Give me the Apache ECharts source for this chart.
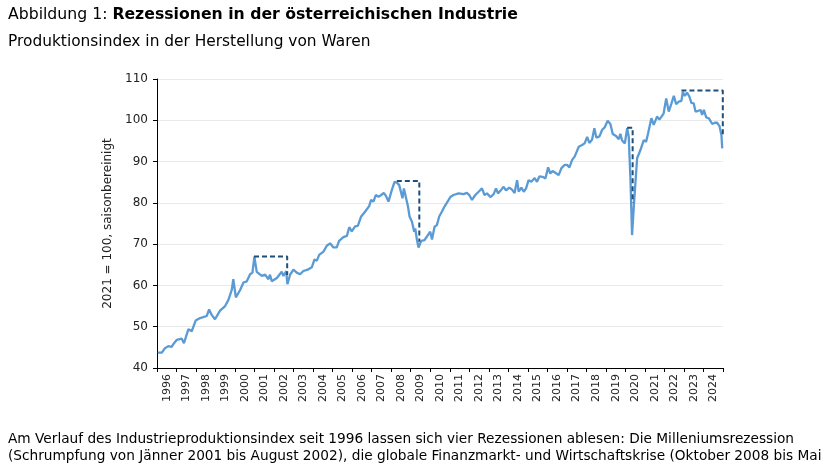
<!DOCTYPE html>
<html>
<head>
<meta charset="utf-8">
<script src="https://cdn.jsdelivr.net/npm/echarts@6/dist/echarts.min.js"></script>
<style>
html,body{margin:0;padding:0;background:#fff;}
#chart{width:829px;height:466px;}
</style>
</head>
<body>
<div id="chart"></div>
<script>
// Decimal-year positions of read points and index values (2021 = 100)
var dates = [
1996.04,1996.24,1996.41,1996.58,1996.75,1996.84,1997.01,1997.27,1997.38,1997.61,1997.78,1997.98,
1998.21,1998.55,1998.67,1998.81,1998.97,1999.23,1999.49,1999.66,1999.83,1999.91,2000.04,2000.26,
2000.43,2000.60,2000.77,2000.89,2000.99,2001.11,2001.37,2001.54,2001.71,2001.79,2001.88,2002.14,
2002.39,2002.48,2002.62,2002.68,2002.82,2002.99,2003.16,2003.33,2003.50,2003.76,2003.93,2004.07,
2004.19,2004.31,2004.53,2004.70,2004.87,2005.04,2005.21,2005.33,2005.55,2005.73,2005.85,2005.98,
2006.15,2006.29,2006.46,2006.67,2006.87,2006.97,2007.09,2007.21,2007.35,2007.49,2007.62,2007.73,
2007.86,2008.03,2008.17,2008.29,2008.41,2008.51,2008.58,2008.65,2008.75,2008.86,2008.94,2009.06,
2009.18,2009.23,2009.32,2009.40,2009.54,2009.71,2009.88,2010.00,2010.09,2010.22,2010.34,2010.46,
2010.60,2010.73,2011.03,2011.19,2011.45,2011.71,2011.88,2012.00,2012.14,2012.31,2012.48,2012.65,
2012.78,2012.91,2013.08,2013.25,2013.37,2013.47,2013.64,2013.76,2013.88,2014.05,2014.19,2014.32,
2014.45,2014.53,2014.67,2014.79,2014.91,2015.04,2015.18,2015.35,2015.47,2015.59,2015.76,2015.90,
2016.04,2016.15,2016.27,2016.41,2016.58,2016.72,2016.89,2017.01,2017.13,2017.27,2017.40,2017.61,
2017.78,2017.91,2018.04,2018.15,2018.29,2018.41,2018.51,2018.67,2018.81,2018.94,2019.09,2019.23,
2019.35,2019.52,2019.66,2019.74,2019.83,2019.97,2020.09,2020.17,2020.26,2020.34,2020.43,2020.60,
2020.77,2020.94,2021.06,2021.16,2021.33,2021.45,2021.62,2021.74,2021.85,2021.96,2022.09,2022.22,
2022.36,2022.48,2022.60,2022.73,2022.87,2022.94,2023.04,2023.16,2023.28,2023.38,2023.50,2023.59,
2023.73,2023.85,2023.93,2024.02,2024.14,2024.27,2024.36,2024.45,2024.58,2024.70,2024.82,2024.92,
2024.96
];
var values = [
43.7,43.7,44.8,45.3,45.1,45.8,46.8,47.1,46.0,49.4,48.9,51.5,
52.1,52.6,54.2,52.8,51.8,53.9,55.0,56.5,58.9,61.5,57.1,58.9,
60.7,61.0,62.7,63.1,67.0,63.3,62.3,62.6,61.5,62.6,61.0,61.8,
63.3,62.3,63.5,60.3,62.6,63.8,63.1,62.7,63.5,63.9,64.4,66.3,
66.0,67.4,68.2,69.6,70.2,69.2,69.2,70.8,71.7,72.0,74.1,73.1,
74.3,74.4,76.7,77.9,79.2,80.7,80.3,81.9,81.5,81.9,82.4,81.7,
80.3,83.1,85.1,84.9,84.3,83.9,81.1,83.5,83.3,79.1,76.7,75.5,
73.0,73.8,71.0,69.2,70.8,71.0,72.2,73.0,71.1,74.2,74.6,76.7,
77.9,79.1,81.4,81.9,82.3,82.1,82.4,81.9,80.7,81.9,82.7,83.5,
81.9,82.3,81.4,82.1,83.5,82.3,83.2,83.9,83.0,83.7,83.2,82.4,
85.5,82.7,83.7,82.7,83.5,85.5,85.1,86.0,85.1,86.4,86.3,85.9,
88.6,87.1,87.7,87.3,86.7,88.4,89.2,89.2,88.6,90.4,91.2,93.6,
94.0,94.4,96.0,94.5,95.3,98.1,95.8,96.1,97.7,98.3,99.9,99.1,
96.7,96.2,95.4,96.7,95.1,94.4,98.1,96.0,85.5,72.2,79.1,90.8,
92.8,95.2,94.8,96.8,100.5,98.9,100.9,100.2,100.9,101.7,105.3,102.1,
104.1,105.9,103.9,104.5,104.7,106.9,105.9,106.7,105.7,104.2,104.1,102.1,
102.3,102.5,101.3,102.5,100.7,100.5,100.9,99.1,99.4,99.4,98.6,96.4,
93.2
];
// Year tick labels
var years = [];
for (var y = 1996; y <= 2024; y++) years.push(String(y));
// Recession markers: peak start, end, peak level, level at end
var recStart  = [2000.97, 2008.29, 2020.09, 2022.87];
var recEnd    = [2002.67, 2009.44, 2020.37, 2024.99];
var recTop    = [67.0, 85.3, 98.2, 107.2];
var recBottom = [62.5, 70.6, 80.0, 96.0];

var series = [{
  type: 'line',
  data: dates.map(function (d, i) { return [d, values[i]]; }),
  showSymbol: false,
  lineStyle: { color: '#5B9BD5', width: 2.3 },
  itemStyle: { color: '#5B9BD5' },
  z: 2
}];
for (var r = 0; r < recStart.length; r++) {
  series.push({
    type: 'line',
    data: [[recStart[r], recTop[r]], [recEnd[r], recTop[r]], [recEnd[r], recBottom[r]]],
    showSymbol: false,
    lineStyle: { color: '#1F4E79', width: 2, type: [5, 3] },
    z: 3
  });
}

var chart = echarts.init(document.getElementById('chart'), null, { renderer: 'canvas' });
var FONT = '"DejaVu Sans", sans-serif';
chart.setOption({
  animation: false,
  backgroundColor: '#fff',
  textStyle: { fontFamily: FONT },
  title: [{
    left: 3, top: 2,
    text: '{a|Abbildung 1: }{b|Rezessionen in der österreichischen Industrie}',
    textStyle: {
      rich: {
        a: { fontSize: 15.7, fontWeight: 'normal', color: '#000', fontFamily: FONT },
        b: { fontSize: 15.7, fontWeight: 'bold', color: '#000', fontFamily: FONT }
      }
    }
  }, {
    left: 3, top: 29,
    text: 'Produktionsindex in der Herstellung von Waren',
    textStyle: { fontSize: 15.4, fontWeight: 'normal', color: '#000', fontFamily: FONT }
  }, {
    left: 3, top: 426,
    text: 'Am Verlauf des Industrieproduktionsindex seit 1996 lassen sich vier Rezessionen ablesen: Die Milleniumsrezession\n(Schrumpfung von Jänner 2001 bis August 2002), die globale Finanzmarkt- und Wirtschaftskrise (Oktober 2008 bis Mai',
    textStyle: { fontSize: 13.7, lineHeight: 17, fontWeight: 'normal', color: '#000', fontFamily: FONT }
  }],
  grid: { left: 157, right: 106, top: 79, bottom: 98, containLabel: false },
  xAxis: [{
    type: 'value', min: 1996, max: 2025, interval: 1,
    axisLine: { show: true, lineStyle: { color: '#000', width: 1 } },
    axisTick: { show: true, length: 4, lineStyle: { color: '#000' } },
    axisLabel: { show: false },
    splitLine: { show: false }
  }, {
    type: 'category', data: years, boundaryGap: true, position: 'bottom',
    axisLine: { show: false }, axisTick: { show: false },
    axisLabel: { rotate: 90, fontSize: 11, color: '#222', margin: 6, interval: 0, fontFamily: FONT },
    splitLine: { show: false }
  }],
  yAxis: {
    type: 'value', min: 40, max: 110, interval: 10,
    name: '2021 = 100, saisonbereinigt', nameLocation: 'middle', nameGap: 36,
    nameTextStyle: { fontSize: 12, color: '#222', fontFamily: FONT },
    axisLine: { show: true, lineStyle: { color: '#000', width: 1 } },
    axisTick: { show: true, length: 4, lineStyle: { color: '#000' } },
    axisLabel: { fontSize: 12, color: '#222', margin: 9, fontFamily: FONT },
    splitLine: { show: true, lineStyle: { color: '#E9E9E9', width: 1 } }
  },
  series: series
});
</script>
</body>
</html>
